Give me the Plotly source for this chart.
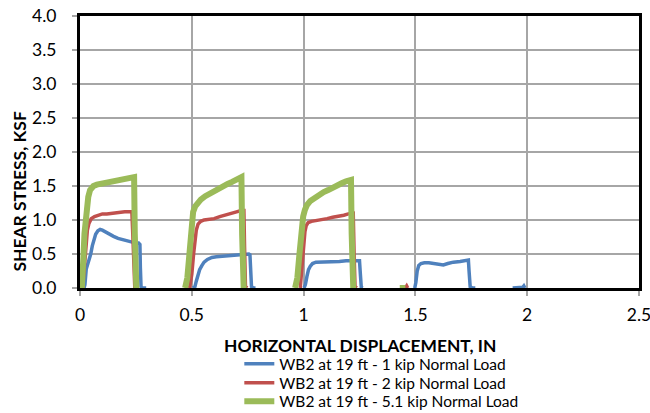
import plotly.graph_objects as go

# Direct shear test, WB2 at 19 ft: shear stress vs horizontal displacement
# (None separates the individual shearing cycles)
disp_1kip = [
    0.018, 0.022, 0.028, 0.033, 0.040, 0.048, 0.055, 0.062, 0.070, 0.080, 0.090, 0.100,
    0.115, 0.130, 0.150, 0.170, 0.190, 0.210, 0.230, 0.250, 0.262, 0.268, 0.270, 0.273,
    0.278, 0.290, 0.296, None,
    0.505, 0.514, 0.520, 0.528, 0.535, 0.545, 0.555, 0.570, 0.590, 0.610, 0.640, 0.670,
    0.700, 0.730, 0.755, 0.760, 0.763, 0.767, 0.775, 0.785, None,
    1.002, 1.008, 1.015, 1.022, 1.030, 1.040, 1.055, 1.075, 1.100, 1.130, 1.160, 1.190,
    1.215, 1.235, 1.245, 1.250, 1.254, 1.258, 1.265, None,
    1.497, 1.502, 1.508, 1.515, 1.525, 1.540, 1.560, 1.585, 1.610, 1.625, 1.645, 1.670,
    1.700, 1.725, 1.737, 1.740, 1.745, 1.755, 1.768, None,
    1.935, 1.960, 1.980, 1.985, 1.990,
]
stress_1kip = [
    0.00, 0.05, 0.28, 0.33, 0.40, 0.50, 0.62, 0.72, 0.79, 0.84, 0.86, 0.85,
    0.82, 0.79, 0.76, 0.73, 0.71, 0.69, 0.68, 0.66, 0.66, 0.64, 0.30, 0.02,
    0.00, 0.00, 0.00, None,
    0.00, 0.02, 0.10, 0.19, 0.27, 0.33, 0.38, 0.42, 0.45, 0.46, 0.47, 0.48,
    0.48, 0.49, 0.50, 0.49, 0.25, 0.02, 0.00, 0.00, None,
    0.00, 0.05, 0.17, 0.27, 0.32, 0.36, 0.38, 0.38, 0.39, 0.38, 0.39, 0.40,
    0.40, 0.41, 0.41, 0.40, 0.20, 0.01, 0.00, None,
    0.00, 0.08, 0.25, 0.33, 0.36, 0.37, 0.37, 0.36, 0.35, 0.34, 0.36, 0.38,
    0.39, 0.40, 0.41, 0.25, 0.02, 0.00, 0.00, None,
    0.00, 0.00, 0.01, 0.03, 0.00,
]

disp_2kip = [
    0.012, 0.018, 0.024, 0.028, 0.033, 0.040, 0.050, 0.065, 0.080, 0.100, 0.120, 0.140,
    0.160, 0.180, 0.200, 0.220, 0.232, 0.236, 0.240, 0.245, 0.252, None,
    0.490, 0.500, 0.508, 0.514, 0.520, 0.528, 0.540, 0.555, 0.575, 0.600, 0.625, 0.650,
    0.675, 0.700, 0.720, 0.730, 0.733, 0.736, 0.740, 0.748, None,
    0.985, 0.993, 1.000, 1.006, 1.012, 1.020, 1.035, 1.055, 1.080, 1.105, 1.130, 1.155,
    1.180, 1.200, 1.215, 1.222, 1.226, 1.230, 1.238, None,
    1.440, 1.455, 1.461, 1.466,
]
stress_2kip = [
    0.00, 0.25, 0.55, 0.72, 0.85, 0.95, 1.02, 1.05, 1.07, 1.09, 1.09, 1.10,
    1.11, 1.11, 1.12, 1.12, 1.12, 0.80, 0.20, 0.01, 0.00, None,
    0.00, 0.20, 0.50, 0.72, 0.85, 0.94, 0.98, 1.00, 1.01, 1.02, 1.05, 1.07,
    1.10, 1.12, 1.14, 1.15, 1.14, 0.60, 0.02, 0.00, None,
    0.00, 0.30, 0.65, 0.83, 0.92, 0.96, 0.98, 0.99, 1.00, 1.02, 1.04, 1.05,
    1.07, 1.09, 1.10, 1.10, 0.50, 0.02, 0.00, None,
    0.00, 0.00, 0.03, 0.00,
]

disp_51kip = [
    0.008, 0.012, 0.016, 0.020, 0.024, 0.030, 0.037, 0.045, 0.052, 0.060, 0.075, 0.090,
    0.105, 0.120, 0.140, 0.160, 0.180, 0.200, 0.220, 0.235, 0.242, 0.245, 0.248, 0.252, None,
    0.470, 0.480, 0.488, 0.495, 0.500, 0.506, 0.515, 0.525, 0.540, 0.560, 0.580, 0.600,
    0.620, 0.640, 0.660, 0.680, 0.700, 0.715, 0.722, 0.725, 0.728, 0.732, None,
    0.962, 0.972, 0.980, 0.986, 0.992, 0.998, 1.006, 1.015, 1.030, 1.050, 1.070, 1.090,
    1.110, 1.130, 1.150, 1.170, 1.190, 1.205, 1.212, 1.215, 1.218, 1.222, None,
    1.430, 1.455,
]
stress_51kip = [
    0.00, 0.15, 0.50, 0.80, 1.00, 1.20, 1.34, 1.44, 1.49, 1.50, 1.52, 1.53,
    1.54, 1.56, 1.58, 1.59, 1.60, 1.61, 1.62, 1.63, 1.63, 0.80, 0.05, 0.00, None,
    0.00, 0.15, 0.45, 0.75, 0.98, 1.12, 1.20, 1.25, 1.30, 1.35, 1.39, 1.43,
    1.47, 1.50, 1.53, 1.56, 1.60, 1.63, 1.63, 0.80, 0.05, 0.00, None,
    0.00, 0.15, 0.45, 0.72, 0.92, 1.05, 1.15, 1.22, 1.28, 1.33, 1.37, 1.41,
    1.44, 1.48, 1.51, 1.54, 1.57, 1.59, 1.59, 0.80, 0.05, 0.00, None,
    0.00, 0.00,
]

# name, x, y, colour, line width, legend id, legend row position (paper y)
series = [
    ("WB2 at 19 ft - 1 kip Normal Load", disp_1kip, stress_1kip, "#4F81BD", 3.5, "legend", -0.280),
    ("WB2 at 19 ft - 2 kip Normal Load", disp_2kip, stress_2kip, "#C0504D", 3.5, "legend2", -0.350),
    ("WB2 at 19 ft - 5.1 kip Normal Load", disp_51kip, stress_51kip, "#9BBB59", 6, "legend3", -0.418),
]

FONT = "Lato"

fig = go.Figure()
legend_layout = {}
for name, xs, ys, color, width, leg, leg_y in series:
    fig.add_trace(go.Scatter(
        x=xs, y=ys, name=name, mode="lines",
        line=dict(color=color, width=width),
        connectgaps=False, legend=leg,
    ))
    legend_layout[leg] = dict(
        x=0.285, y=leg_y, xanchor="left", yanchor="middle",
        font=dict(family=FONT, size=15.5, color="black"),
        bgcolor="rgba(0,0,0,0)", itemwidth=30,
    )

axis_common = dict(
    showgrid=True, gridcolor="#A6A6A6", gridwidth=1.5,
    showline=True, linecolor="black", linewidth=3, mirror=True,
    ticks="outside", ticklen=5, tickcolor="#A6A6A6", tickwidth=1.5,
    zeroline=False, automargin=False, ticklabeloverflow="allow",
    tickfont=dict(family=FONT, size=17.5, color="black"),
)

fig.update_layout(
    width=650, height=413,
    margin=dict(l=80, r=11, t=16, b=125, autoexpand=False),
    paper_bgcolor="white", plot_bgcolor="white",
    font=dict(family=FONT, color="black"),
    xaxis=dict(range=[0, 2.5], dtick=0.5, ticklabelstandoff=4, **axis_common),
    yaxis=dict(range=[0, 4], dtick=0.5, tickformat=".1f", ticklabelstandoff=12,
               **axis_common),
    showlegend=True,
    **legend_layout,
)

# Axis titles
fig.add_annotation(
    text="<b>HORIZONTAL DISPLACEMENT, IN</b>", xref="paper", yref="paper",
    x=0.5, y=-0.2114, xanchor="center", yanchor="middle", showarrow=False,
    font=dict(family=FONT, size=17.4, color="black"),
)
fig.add_annotation(
    text="<b>SHEAR STRESS, KSF</b>", xref="paper", yref="paper",
    x=-0.109, y=0.355, xanchor="center", yanchor="middle", showarrow=False,
    textangle=-90, font=dict(family=FONT, size=17.4, color="black"),
)

fig.write_html("out.html")
